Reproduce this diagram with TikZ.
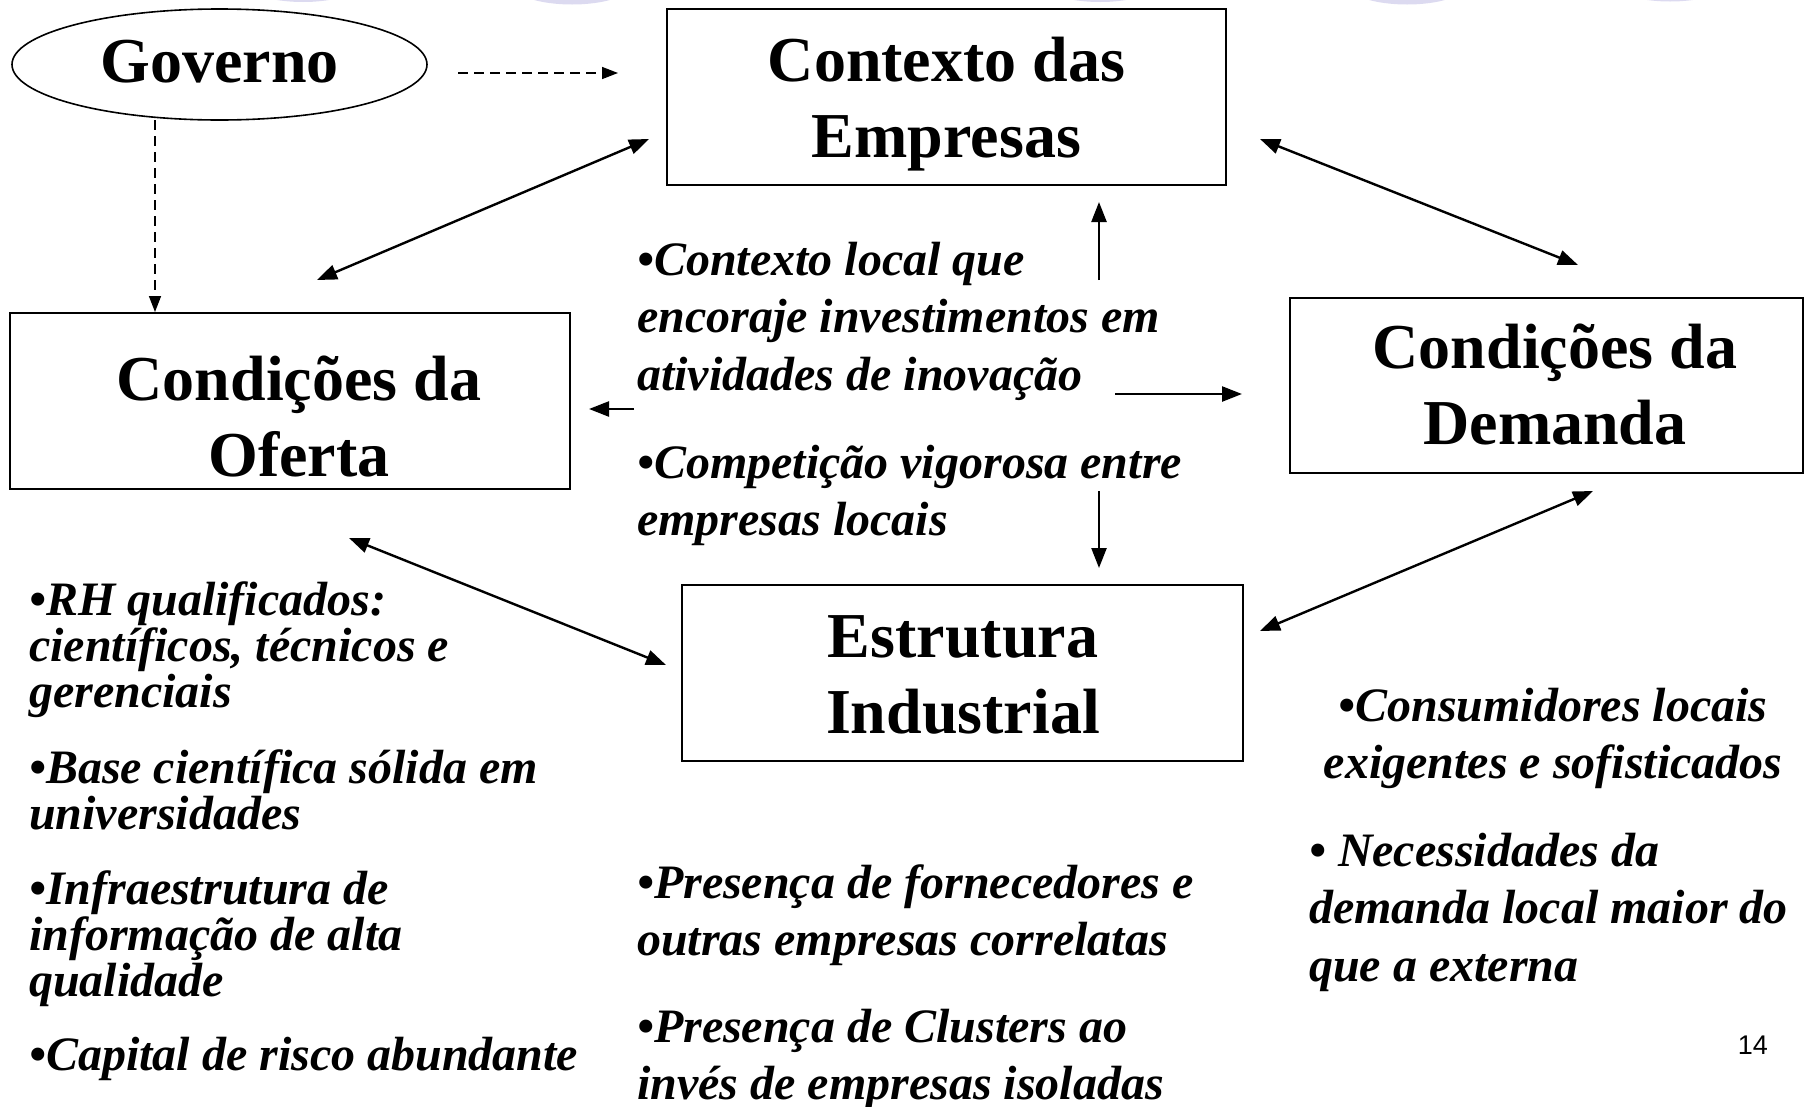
\documentclass[tikz,border=0pt]{standalone}
\usepackage{fontspec}
\setmainfont{Liberation Serif}
\newfontfamily\numfont{Liberation Sans}
\usetikzlibrary{arrows.meta,shapes.geometric}
\newcommand\leftlines[1]{\vtop{\halign{##\hfil\cr#1\crcr}}}
\newcommand\midlines[1]{\vtop{\halign{\hfil##\hfil\cr#1\crcr}}}
\definecolor{lav}{RGB}{220,218,240}
\begin{document}
\begin{tikzpicture}[x=1pt,y=-1pt,
  box/.style={draw, line width=1.6pt, inner sep=0pt},
  ttl/.style={anchor=base, inner sep=0pt, font=\fontsize{64}{76}\selectfont\bfseries},
  txt/.style={anchor=base west, inner sep=0pt,
    font=\fontsize{48}{57.7}\selectfont\bfseries\itshape},
  tight/.style={font=\fontsize{48}{46}\selectfont\bfseries\itshape},
  link/.style={line width=2.4pt, {Triangle[length=20pt,width=15pt]}-{Triangle[length=20pt,width=15pt]}},
  oneway/.style={line width=2.4pt, -{Triangle[length=20pt,width=15pt]}},
  govlink/.style={line width=1.5pt, dash pattern=on 10pt off 6pt, -{Triangle[length=16pt,width=12pt]}}]
\useasboundingbox (0,0) rectangle (1810,1106);
\begin{scope}
  \clip (0,0) rectangle (1810,1106);
  \foreach \cx/\cy in {303/-18, 572/-15.5, 1100/-18, 1407/-15.5, 1670/-18.5}
    \fill[lav] (\cx,\cy) ellipse [x radius=60, y radius=20];
\end{scope}

% main nodes
\node[ellipse, draw, line width=1.6pt, minimum width=415pt, minimum height=111pt, inner sep=0pt,
  text depth=7pt, font=\fontsize{64}{76}\selectfont\bfseries] (gov) at (219.5,64.5) {Governo};
\node[box, minimum width=559pt, minimum height=176pt] (ctx) at (946.5,97) {};
\node[box, minimum width=560pt, minimum height=176pt] (oferta) at (290,401) {};
\node[box, minimum width=513pt, minimum height=175pt] (demanda) at (1546.5,385.5) {};
\node[box, minimum width=561pt, minimum height=176pt] (estr) at (962.5,673) {};

% box titles
\node[ttl] (ctxt) at (946.5,81) {\midlines{Contexto das\cr Empresas}};
\node[ttl] (ofertat) at (299,400) {\midlines{Condições da\cr Oferta}};
\node[ttl] (demandat) at (1555,368.5) {\midlines{Condições da\cr Demanda}};
\node[ttl] (estrt) at (963,657.5) {\midlines{Estrutura\cr Industrial}};

% text blocks
\node[txt] (c1) at (637,275) {\leftlines{•Contexto local que\cr encoraje investimentos em\cr atividades de inovação}};
\node[txt] (c2) at (637,478) {\leftlines{•Competição vigorosa entre\cr empresas locais}};
\node[txt, tight] (l1) at (29,615) {\leftlines{•RH qualificados:\cr científicos, técnicos e\cr gerenciais}};
\node[txt, tight] (l2) at (29,783) {\leftlines{•Base científica sólida em\cr universidades}};
\node[txt, tight] (l3) at (29,904) {\leftlines{•Infraestrutura de\cr informação de alta\cr qualidade}};
\node[txt, tight] (l4) at (29,1070) {•Capital de risco abundante};
\node[txt] (b1) at (637,898) {\leftlines{•Presença de fornecedores e\cr outras empresas correlatas}};
\node[txt] (b2) at (637,1042) {\leftlines{•Presença de Clusters ao\cr invés de empresas isoladas}};
\node[txt, anchor=base] (r1) at (1553,721) {\midlines{•Consumidores locais\cr exigentes e sofisticados}};
\node[txt] (r2) at (1309,866) {\leftlines{• Necessidades da\cr demanda local maior do\cr que a externa}};
\node[anchor=base east, inner sep=0pt, font=\numfont\fontsize{27}{30}\selectfont] (pg) at (1768,1054) {14};

% connector end points
\coordinate (gr1) at (458,73);   \coordinate (gr2) at (618,73);
\coordinate (gd1) at (155,120);  \coordinate (gd2) at (155,312);
\coordinate (oc1) at (317,280);  \coordinate (oc2) at (649,139);
\coordinate (cd1) at (1260,139); \coordinate (cd2) at (1578,265);
\coordinate (up1) at (1099,280); \coordinate (up2) at (1099,202);
\coordinate (lf1) at (634,409);  \coordinate (lf2) at (589,409);
\coordinate (rt1) at (1115,394); \coordinate (rt2) at (1242,394);
\coordinate (dn1) at (1099,491); \coordinate (dn2) at (1099,568);
\coordinate (oe1) at (349,538);  \coordinate (oe2) at (666,665);
\coordinate (ed1) at (1260,631); \coordinate (ed2) at (1593,491);

\draw[govlink] (gr1) -- (gr2);
\draw[govlink] (gd1) -- (gd2);
\draw[link] (oc1) -- (oc2);
\draw[link] (cd1) -- (cd2);
\draw[link] (oe1) -- (oe2);
\draw[link] (ed1) -- (ed2);
\draw[oneway] (up1) -- (up2);
\draw[oneway] (lf1) -- (lf2);
\draw[oneway] (rt1) -- (rt2);
\draw[oneway] (dn1) -- (dn2);
\end{tikzpicture}
\end{document}
